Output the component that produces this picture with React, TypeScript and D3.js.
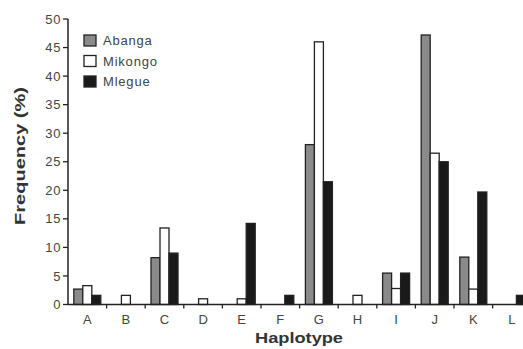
import { scaleBand, scaleLinear } from 'd3'

const haplotypes = ['A', 'B', 'C', 'D', 'E', 'F', 'G', 'H', 'I', 'J', 'K', 'L']
const populations = ['Abanga', 'Mikongo', 'Mlegue']
const abanga = [2.7, 0, 8.2, 0, 0, 0, 28, 0, 5.5, 47.2, 8.3, 0]
const mikongo = [3.3, 1.6, 13.4, 1.0, 1.0, 0, 46, 1.6, 2.8, 26.5, 2.7, 0]
const mlegue = [1.6, 0, 9.0, 0, 14.2, 1.6, 21.5, 0, 5.5, 25, 19.7, 1.6]
const yTicks = [0, 5, 10, 15, 20, 25, 30, 35, 40, 45, 50]
const fills = ['#8a8a8a', '#ffffff', '#1a1a1a']

const App = () => {
  const width = 523
  const height = 349
  const left = 68
  const series = [abanga, mikongo, mlegue]

  const x = scaleBand().domain(haplotypes).range([left, left + 12 * 38.6])
  const inner = scaleBand().domain(populations).range([0, 27])
  const y = scaleLinear().domain([0, 50]).range([304.5, 19])
  const font = '"Liberation Sans", Arial, sans-serif'
  const ink = '#222'

  return (
    <svg width={width} height={height} style={{ position: 'absolute', left: 0, top: 0 }}>
      <rect width={width} height={height} fill="#fff" />
      {haplotypes.map((h, i) => {
        const x0 = (x(h) ?? 0) + (x.bandwidth() - 27) / 2
        return series.map((s, j) => {
          const v = s[i]
          if (!v) return null
          return (
            <rect
              key={h + j}
              x={x0 + (inner(populations[j]) ?? 0)}
              y={y(v)}
              width={inner.bandwidth()}
              height={y(0) - y(v)}
              fill={fills[j]}
              stroke={ink}
              strokeWidth={1.3}
            />
          )
        })
      })}
      {/* y axis */}
      <line x1={left} x2={left} y1={y(50)} y2={y(0)} stroke={ink} strokeWidth={1.5} />
      {yTicks.map(t => (
        <g key={t}>
          <line x1={left - 5} x2={left} y1={y(t)} y2={y(t)} stroke={ink} strokeWidth={1.3} />
          <text x={left - 7} y={y(t)} dy="0.35em" textAnchor="end" fontSize={13} letterSpacing={0.6} fontFamily={font} fill="#444">
            {t}
          </text>
        </g>
      ))}
      {/* x axis */}
      <line x1={left} x2={width} y1={y(0)} y2={y(0)} stroke={ink} strokeWidth={1.5} />
      {haplotypes.map(h => (
        <g key={h}>
          <line x1={(x(h) ?? 0) + x.bandwidth()} x2={(x(h) ?? 0) + x.bandwidth()} y1={y(0)} y2={y(0) + 4} stroke={ink} strokeWidth={1.3} />
          <text x={(x(h) ?? 0) + x.bandwidth() / 2} y={324} textAnchor="middle" fontSize={13} fontFamily={font} fill="#444">
            {h}
          </text>
        </g>
      ))}
      <text x={255} y={343} textLength={88} lengthAdjust="spacingAndGlyphs" fontSize={15} fontWeight="bold" fontFamily={font} fill="#333">
        Haplotype
      </text>
      <text transform="translate(25,225) rotate(-90)" textLength={138} lengthAdjust="spacingAndGlyphs" fontSize={14.5} fontWeight="bold" fontFamily={font} fill="#333">
        Frequency (%)
      </text>
      {/* legend */}
      {populations.map((p, j) => (
        <g key={p} transform={`translate(84,${35 + j * 20.5})`}>
          <rect x={0} y={0} width={12} height={11} fill={fills[j]} stroke={ink} strokeWidth={1.3} />
          <text x={19} y={5.5} dy="0.35em" fontSize={13} letterSpacing={0.8} fontFamily={font} fill="#444">
            {p}
          </text>
        </g>
      ))}
    </svg>
  )
}

export default App
